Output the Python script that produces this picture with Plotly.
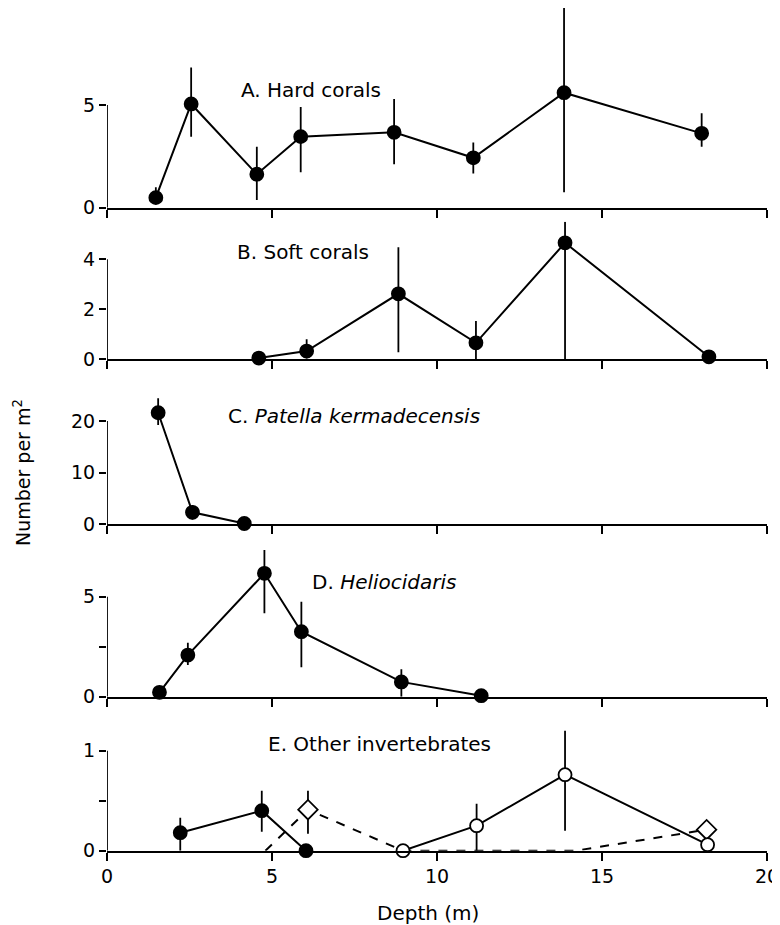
import plotly.graph_objects as go

# ---------------- data ----------------
# A. Hard corals
a_depth = [1.48, 2.55, 4.54, 5.87, 8.70, 11.10, 13.85, 18.02]
a_val = [0.49, 5.05, 1.63, 3.46, 3.67, 2.43, 5.60, 3.62]
a_err_up = [0.51, 1.77, 1.34, 1.44, 1.62, 0.75, 4.16, 0.98]
a_err_dn = [0.26, 1.59, 1.26, 1.74, 1.56, 0.76, 4.85, 0.65]

# B. Soft corals
b_depth = [4.60, 6.05, 8.83, 11.18, 13.88, 18.24]
b_val = [0.05, 0.33, 2.62, 0.66, 4.66, 0.10]
b_err_up = [0.0, 0.47, 1.86, 0.87, 0.84, 0.0]
b_err_dn = [0.0, 0.30, 2.34, 0.66, 4.66, 0.0]

# C. Patella kermadecensis
c_depth = [1.55, 2.59, 4.16]
c_val = [21.6, 2.27, 0.10]
c_err_up = [2.8, 1.4, 0.0]
c_err_dn = [2.4, 1.4, 0.0]

# D. Heliocidaris
d_depth = [1.59, 2.45, 4.77, 5.89, 8.92, 11.34]
d_val = [0.22, 2.08, 6.17, 3.25, 0.74, 0.05]
d_err_up = [0.0, 0.62, 1.16, 1.50, 0.63, 0.0]
d_err_dn = [0.0, 0.50, 2.00, 1.78, 0.74, 0.0]

# E. Other invertebrates
e1_depth = [2.22, 4.69, 6.03]          # filled circles, solid line
e1_val = [0.18, 0.40, 0.0]
e1_err_up = [0.15, 0.20, 0.0]
e1_err_dn = [0.18, 0.21, 0.0]

e2_depth = [8.97, 11.20, 13.88, 18.20]  # open circles, solid line
e2_val = [0.0, 0.25, 0.76, 0.06]
e2_err_up = [0.0, 0.22, 0.44, 0.0]
e2_err_dn = [0.0, 0.25, 0.56, 0.0]

e3_depth = [4.80, 6.09, 8.97, 14.20, 18.17]  # open diamonds, dashed line
e3_val = [0.0, 0.41, 0.0, 0.0, 0.21]
e3_err_up = [0.0, 0.19, 0.0, 0.0, 0.0]
e3_err_dn = [0.0, 0.24, 0.0, 0.0, 0.0]
e3_shown = [False, True, False, False, True]

x_ticks = [0, 5, 10, 15, 20]
x_ticktext = ["0", "5", "10", "15", "20"]

panel_labels = ["A. Hard corals", "B. Soft corals",
                "C. <i>Patella kermadecensis</i>", "D. <i>Heliocidaris</i>",
                "E. Other invertebrates"]
y_tickvals = [[0, 5], [0, 2, 4], [0, 10, 20], [0, 2.5, 5], [0, 0.5, 1]]
y_ticktext = [["0", "5"], ["0", "2", "4"], ["0", "10", "20"], ["0", "", "5"], ["0", "", "1"]]

# ---------------- layout constants ----------------
FONT = "DejaVu Sans"
OFF = 8                      # page body margin of the html page
W, H = 780 - OFF, 925 - OFF
PLOT_L, PLOT_R = 107, 767    # page pixels of depth 0 and 20
PLOT_B = 851                 # page pixel of bottom plot edge
ML = PLOT_L - OFF
MR = W - (PLOT_R - OFF)
MT = 0
MB = H - (PLOT_B - OFF)
PH = H - MT - MB
PW = W - ML - MR

# (baseline page pixel, pixels per unit, y max) per panel
geom = [(207.7, 20.54, 9.72), (359.3, 25.0, 5.5), (524.0, 5.15, 25.0),
        (696.7, 20.0, 7.5), (850.7, 100.0, 1.22)]
label_pos = [(4.0, 5.73), (3.88, 4.3), (3.62, 21.0), (6.15, 5.75), (4.82, 1.07)]


def page_to_frac(py):
    return (PLOT_B - py) / PH


fig = go.Figure()

LINE_W = 2
ERR_W = 1.8
MS = 13


def add_series(i, x, y, up, dn, symbol, fill, dash="solid", sizes=None):
    ax = "" if i == 1 else str(i)
    # connecting line and error bars
    fig.add_trace(go.Scatter(
        x=x, y=y, mode="lines",
        xaxis="x" + ax, yaxis="y" + ax,
        line=dict(color="black", width=LINE_W, dash=dash),
        error_y=dict(type="data", symmetric=False, array=up, arrayminus=dn,
                     color="black", thickness=ERR_W, width=0),
        cliponaxis=False, showlegend=False, hoverinfo="skip"))
    # markers on top
    fig.add_trace(go.Scatter(
        x=x, y=y, mode="markers",
        xaxis="x" + ax, yaxis="y" + ax,
        marker=dict(symbol=symbol, size=sizes if sizes is not None else MS,
                    color=fill, opacity=1,
                    line=dict(color="black", width=1.8)),
        cliponaxis=False, showlegend=False, hoverinfo="x+y"))


add_series(1, a_depth, a_val, a_err_up, a_err_dn, "circle", "black")
add_series(2, b_depth, b_val, b_err_up, b_err_dn, "circle", "black")
add_series(3, c_depth, c_val, c_err_up, c_err_dn, "circle", "black")
add_series(4, d_depth, d_val, d_err_up, d_err_dn, "circle", "black")
add_series(5, e1_depth, e1_val, e1_err_up, e1_err_dn, "circle", "black")
add_series(5, e3_depth, e3_val, e3_err_up, e3_err_dn, "diamond", "white", dash="dash",
           sizes=[15 if s else 0 for s in e3_shown])
add_series(5, e2_depth, e2_val, e2_err_up, e2_err_dn, "circle", "white")

layout = dict(width=W, height=H, margin=dict(l=ML, r=MR, t=MT, b=MB),
              paper_bgcolor="white", plot_bgcolor="white",
              font=dict(family=FONT, size=19, color="black"),
              showlegend=False)
shapes = []
annotations = []
for k, (base, ppu, ymax) in enumerate(geom):
    i = k + 1
    ax = "" if i == 1 else str(i)
    top = base - ymax * ppu
    d0 = max(0.0, page_to_frac(base))
    d1 = min(1.0, page_to_frac(top))
    layout["xaxis" + ax] = dict(
        domain=[0, 1], anchor="y" + ax, range=[0, 20],
        showline=True, linecolor="black", linewidth=1.8,
        ticks="outside", ticklen=8, tickwidth=1.8, tickcolor="black",
        tickvals=x_ticks, ticktext=x_ticktext, showticklabels=(i == 5),
        showgrid=False, zeroline=False, fixedrange=True, automargin=False,
        tickfont=dict(family=FONT, size=19, color="black"))
    layout["yaxis" + ax] = dict(
        domain=[d0, d1], anchor="x" + ax, range=[0, ymax],
        showline=False, ticks="outside", ticklen=7, tickwidth=1.8,
        tickcolor="black", tickvals=y_tickvals[k], ticktext=y_ticktext[k],
        showgrid=False, zeroline=False, fixedrange=True, automargin=False,
        tickfont=dict(family=FONT, size=19, color="black"))
    shapes.append(dict(type="line", xref="x" + ax, yref="y" + ax,
                       x0=0, x1=0, y0=0, y1=max(y_tickvals[k]),
                       line=dict(color="black", width=1.8)))
    annotations.append(dict(xref="x" + ax, yref="y" + ax,
                            x=label_pos[k][0], y=label_pos[k][1],
                            text=panel_labels[k], showarrow=False,
                            xanchor="left", yanchor="middle",
                            font=dict(family=FONT, size=20, color="black")))

annotations.append(dict(xref="paper", yref="paper", x=(22 - PLOT_L) / PW,
                        y=page_to_frac(473), text="Number per m<sup>2</sup>",
                        textangle=-90, showarrow=False,
                        xanchor="center", yanchor="middle",
                        font=dict(family=FONT, size=19, color="black")))
annotations.append(dict(xref="x5", yref="paper", x=9.73, y=page_to_frac(913),
                        text="Depth (m)", showarrow=False,
                        xanchor="center", yanchor="middle",
                        font=dict(family=FONT, size=20, color="black")))
layout["shapes"] = shapes
layout["annotations"] = annotations
fig.update_layout(**layout)

fig.write_html("out.html")
